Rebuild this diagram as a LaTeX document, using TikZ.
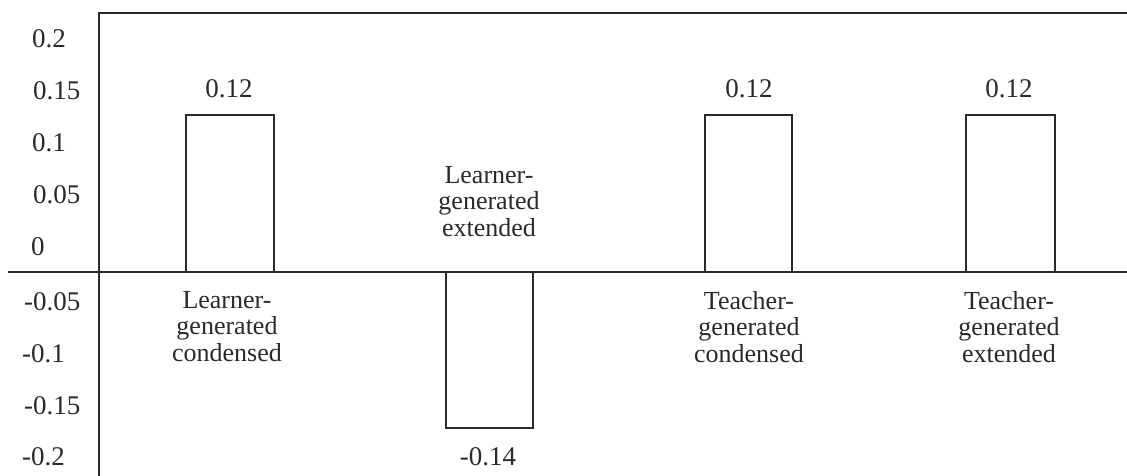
\documentclass[tikz,border=0pt]{standalone}
\usepackage{fontspec}
\setmainfont{Liberation Serif}
\definecolor{ink}{HTML}{2A2A2A}
\begin{document}
\begin{tikzpicture}[x=1pt,y=-1pt,
  axis/.style={draw=ink,line width=2pt},
  bar/.style={draw=ink,line width=2pt},
  lbl/.style={text=ink,inner sep=0pt,font=\fontsize{26}{26.5}\selectfont},
  num/.style={text=ink,inner sep=0pt,font=\fontsize{27}{28}\selectfont},
  tick/.style={num,anchor=base west},
  val/.style={num,anchor=base},
  cat/.style={lbl,anchor=north,align=center}]
\useasboundingbox (0,0) rectangle (1127,476);
\fill[white] (0,0) rectangle (1127,476);
% axes
\coordinate (tl) at (99,13);
\coordinate (tr) at (1127,13);
\coordinate (bl) at (99,476);
\coordinate (zl) at (8,272);
\coordinate (zr) at (1127,272);
\draw[axis] (tr) -- (tl) -- (bl);
\draw[axis] (zl) -- (zr);
% bars
\draw[bar] (186,272) rectangle (274,115);
\draw[bar] (446,272) rectangle (533,428);
\draw[bar] (705,272) rectangle (792,115);
\draw[bar] (966,272) rectangle (1055,115);
% y tick labels
\node[tick] (t1) at (32,48) {0.2};
\node[tick] (t2) at (33,100) {0.15};
\node[tick] (t3) at (32,152) {0.1};
\node[tick] (t4) at (33,203) {0.05};
\node[tick] (t5) at (31,255) {0};
\node[tick] (t6) at (24,310) {-0.05};
\node[tick] (t7) at (22,362) {-0.1};
\node[tick] (t8) at (24,414) {-0.15};
\node[tick] (t9) at (22,465) {-0.2};
% values
\node[val] (v1) at (229,98) {0.12};
\node[val] (v2) at (488,465) {-0.14};
\node[val] (v3) at (749,98) {0.12};
\node[val] (v4) at (1009,98) {0.12};
% categories
\node[cat] (c1) at (227,291) {Learner-\\generated\\condensed};
\node[cat] (c2) at (489,166) {Learner-\\generated\\extended};
\node[cat] (c3) at (749,291) {Teacher-\\generated\\condensed};
\node[cat] (c4) at (1009,291) {Teacher-\\generated\\extended};
\end{tikzpicture}
\end{document}
